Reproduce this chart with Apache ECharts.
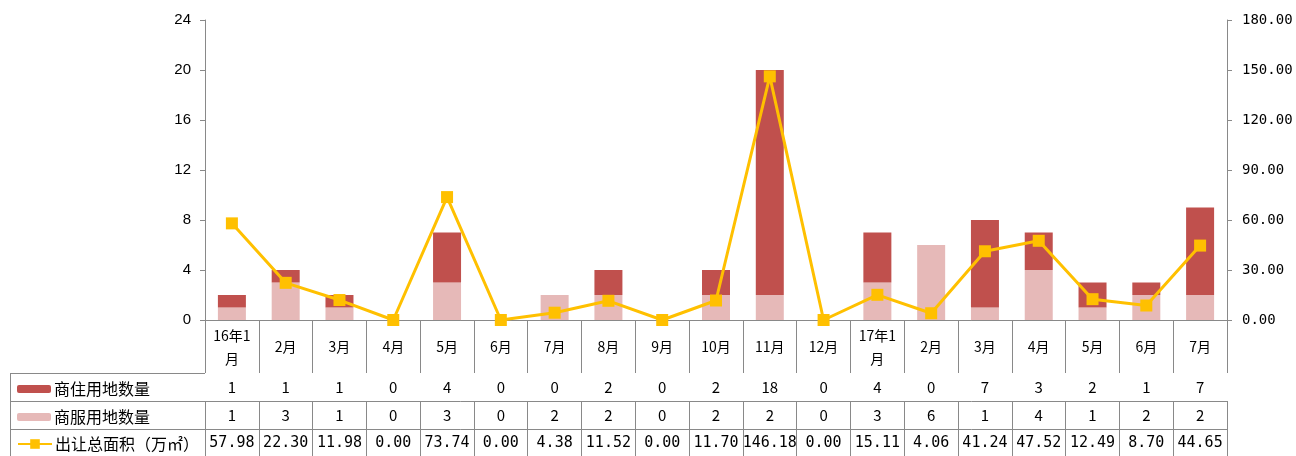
<!DOCTYPE html>
<html><head><meta charset="utf-8">
<script src="https://cdn.jsdelivr.net/npm/echarts@6/dist/echarts.min.js"></script>
<style>html,body{margin:0;padding:0;background:#fff}#c{width:1296px;height:456px}</style>
</head><body><div id="c"></div>
<script>
const categories = ['16年1月','2月','3月','4月','5月','6月','7月','8月','9月','10月','11月','12月','17年1月','2月','3月','4月','5月','6月','7月'];
const residential = [1,1,1,0,4,0,0,2,0,2,18,0,4,0,7,3,2,1,7];
const commercial = [1,3,1,0,3,0,2,2,0,2,2,0,3,6,1,4,1,2,2];
const area = [57.98,22.30,11.98,0.00,73.74,0.00,4.38,11.52,0.00,11.70,146.18,0.00,15.11,4.06,41.24,47.52,12.49,8.70,44.65];
const leftTicks = {min:0, max:24, interval:4};
const rightTicks = {min:0, max:180, interval:30};
const names = ['商住用地数量','商服用地数量','出让总面积（万㎡）'];

const GRAY = '#898989';
const cjk = '"Noto Sans CJK SC", sans-serif';
const mono = '"DejaVu Sans Mono", monospace';
const chart = echarts.init(document.getElementById('c'));

function rowAxis(values, offset, fmt, font, size){
  return {
    type:'category', data: values.map(fmt), position:'bottom', offset: offset,
    axisLine:{show:true, lineStyle:{color:GRAY, width:1}},
    axisTick:{show:true, length:28, lineStyle:{color:GRAY}},
    axisLabel:{interval:0, margin:14, verticalAlign:'middle', color:'#000', fontSize:size, fontFamily:font}
  };
}

const legendText = {fontSize:16, color:'#000', fontFamily:cjk, padding:[0,0,0,-2]};
const option = {
  animation:false,
  grid:{left:205, right:69, top:20, bottom:136, containLabel:false},
  legend:[
    {data:[names[0]], left:12, top:376, itemWidth:34, itemHeight:8, itemGap:0, textStyle:legendText},
    {data:[names[1]], left:12, top:404, itemWidth:34, itemHeight:8, itemGap:0, textStyle:legendText},
    {data:[names[2]], left:12, top:431, itemWidth:34, itemHeight:12, itemGap:0, textStyle:legendText}
  ],
  xAxis:[
    {type:'category', data:categories, position:'bottom',
     axisLine:{show:true, lineStyle:{color:GRAY}},
     axisTick:{show:true, length:53, lineStyle:{color:GRAY}},
     axisLabel:{interval:0, margin:27, verticalAlign:'middle', color:'#000', fontSize:14, fontFamily:cjk, lineHeight:23,
       formatter:v => v.length > 4 ? v.slice(0,4) + '\n' + v.slice(4) : v}},
    rowAxis(residential, 53, v => String(v), cjk, 15),
    rowAxis(commercial, 81, v => String(v), cjk, 15),
    rowAxis(area, 109, v => v.toFixed(2), mono, 15)
  ],
  yAxis:[
    {type:'value', min:leftTicks.min, max:leftTicks.max, interval:leftTicks.interval,
     axisLine:{show:true, lineStyle:{color:GRAY}}, axisTick:{show:true, length:5, lineStyle:{color:GRAY}},
     splitLine:{show:false}, axisLabel:{color:'#000', fontSize:15, margin:14, fontFamily:'"Liberation Sans", Arial, sans-serif'}},
    {type:'value', min:rightTicks.min, max:rightTicks.max, interval:rightTicks.interval, position:'right',
     axisLine:{show:true, lineStyle:{color:GRAY}}, axisTick:{show:true, length:5, lineStyle:{color:GRAY}},
     splitLine:{show:false}, axisLabel:{color:'#000', fontSize:14, margin:15, fontFamily:mono, formatter:v => v.toFixed(2)}}
  ],
  series:[
    {name:names[1], type:'bar', stack:'s', data:commercial, barWidth:28, itemStyle:{color:'#E6B9B8'}},
    {name:names[0], type:'bar', stack:'s', data:residential, barWidth:28, itemStyle:{color:'#C0504D'}},
    {name:names[2], type:'line', yAxisIndex:1, data:area, symbol:'rect', symbolSize:12,
     lineStyle:{color:'#FFC000', width:3}, itemStyle:{color:'#FFC000'}}
  ],
  graphic:[
    {type:'line', shape:{x1:10, y1:373.5, x2:205, y2:373.5}, style:{stroke:GRAY, lineWidth:1}},
    {type:'line', shape:{x1:10, y1:401.5, x2:205, y2:401.5}, style:{stroke:GRAY, lineWidth:1}},
    {type:'line', shape:{x1:10, y1:429.5, x2:205, y2:429.5}, style:{stroke:GRAY, lineWidth:1}},
    {type:'line', shape:{x1:10.5, y1:373, x2:10.5, y2:456}, style:{stroke:GRAY, lineWidth:1}}
  ]
};
chart.setOption(option);
</script>
</body></html>
